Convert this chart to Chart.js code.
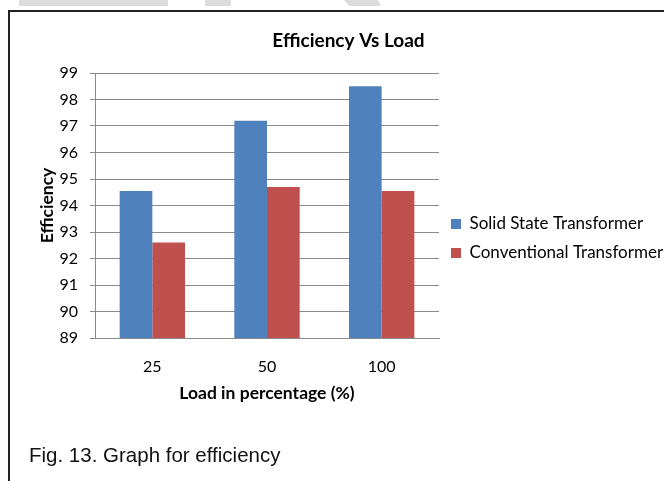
<!DOCTYPE html>
<html><head><meta charset="utf-8">
<script src="https://cdn.jsdelivr.net/npm/chart.js@4/dist/chart.umd.min.js"></script>
<style>
html,body{margin:0;padding:0;width:664px;height:481px;overflow:hidden;background:#fff;position:relative}
.wm{position:absolute;top:0;height:6px;background:#dcdcdc}
#frame{position:absolute;left:8px;top:10px;width:720px;height:520px;border-left:2px solid #222;border-top:2px solid #222}
#wrap{position:absolute;left:10px;top:12px}
#cap{position:absolute;left:29px;top:442px;font-family:"Liberation Sans",Arial,sans-serif;font-size:20.5px;color:#111;line-height:26px;white-space:nowrap;z-index:2}
</style></head>
<body>
<div class="wm" style="left:19px;width:149px"></div>
<div class="wm" style="left:205px;width:26px"></div>
<div class="wm" style="left:344px;width:37px;clip-path:polygon(0 0,92% 0,100% 100%,14% 100%)"></div>
<div id="frame"></div>
<div id="wrap"><canvas id="c"></canvas></div>
<div id="cap">Fig. 13. Graph for efficiency</div>
<script>
// ---- data ----
const categories = ['25', '50', '100'];
const seriesNames = ['Solid State Transformer', 'Conventional Transformer'];
const solidState = [94.55, 97.2, 98.5];
const conventional = [92.6, 94.7, 94.55];
const yMin = 89, yMax = 99, yStep = 1;
const chartTitle = 'Efficiency Vs Load';
const xTitle = 'Load in percentage (%)';
const yTitle = 'Efficiency';

// ---- layout (page px) ----
const OX = 10, OY = 12, W = 720, H = 453;
const PLOT_L = 95, PLOT_R = 439, PLOT_T = 73, PLOT_B = 338;
const FONT = 'Lato, "Open Sans", sans-serif';
const LEG_SIZE = 17, LEG_PAD = 12, BOX = 10;
const mctx = document.createElement('canvas').getContext('2d');
mctx.font = LEG_SIZE + 'px Lato';
const maxText = Math.max(...seriesNames.map(s => mctx.measureText(s).width));
const legW = LEG_PAD + BOX + LEG_SIZE / 2 + maxText + 10;
const padR = OX + W - PLOT_R - legW;
const padL = Math.max(0, 2 * (348.5 - OX) - W + padR);
const yAxisW = PLOT_L - OX - padL;
const titleSize = 19, titleLH = titleSize * 1.2;
const titlePadTop = 41 - OY - titleLH / 2;
const titlePadBot = (PLOT_T - OY) - titlePadTop - titleLH;
const axTitleSize = 17.5, axTitleLH = axTitleSize * 1.2;
const xAxisH = (OY + H) - PLOT_B;

const cv = document.getElementById('c');
cv.width = W; cv.height = H;
cv.style.width = W + 'px'; cv.style.height = H + 'px';

new Chart(cv, {
  type: 'bar',
  data: {
    labels: categories,
    datasets: [
      { label: seriesNames[0], data: solidState, backgroundColor: '#4F81BD', borderWidth: 0 },
      { label: seriesNames[1], data: conventional, backgroundColor: '#C0504D', borderWidth: 0 }
    ]
  },
  options: {
    responsive: false,
    animation: false,
    devicePixelRatio: 1,
    layout: { padding: { left: padL, right: padR, top: 0, bottom: 0 } },
    datasets: { bar: { categoryPercentage: 0.57, barPercentage: 1 } },
    plugins: {
      title: {
        display: true, text: chartTitle, color: '#000',
        font: { family: FONT, size: titleSize, weight: 'bold' },
        padding: { top: titlePadTop, bottom: titlePadBot }
      },
      legend: {
        display: true, position: 'right', align: 'center', maxWidth: 400,
        labels: {
          boxWidth: BOX, boxHeight: BOX, padding: LEG_PAD, color: '#000',
          font: { family: FONT, size: LEG_SIZE }
        }
      },
      tooltip: { enabled: false }
    },
    scales: {
      x: {
        grid: { display: false, drawTicks: false },
        border: { display: true, color: '#8a8a8a' },
        ticks: { color: '#000', font: { family: FONT, size: 16 }, padding: 19 },
        title: {
          display: true, text: xTitle, color: '#000',
          font: { family: FONT, size: axTitleSize, weight: 'bold' },
          padding: { top: 0, bottom: (OY + H) - 393 - axTitleLH / 2 }
        },
        afterFit: s => { s.height = xAxisH; }
      },
      y: {
        min: yMin, max: yMax,
        grid: { color: '#8a8a8a', lineWidth: 1, tickLength: 5, drawTicks: true },
        border: { display: true, color: '#8a8a8a' },
        ticks: { stepSize: yStep, color: '#000', font: { family: FONT, size: 16 }, padding: 12 },
        title: {
          display: true, text: yTitle, color: '#000',
          font: { family: FONT, size: axTitleSize, weight: 'bold' },
          padding: { top: 47 - (OX + padL) - axTitleLH / 2, bottom: 0 }
        },
        afterFit: s => { s.width = yAxisW; }
      }
    }
  }
});
</script>
</body></html>
